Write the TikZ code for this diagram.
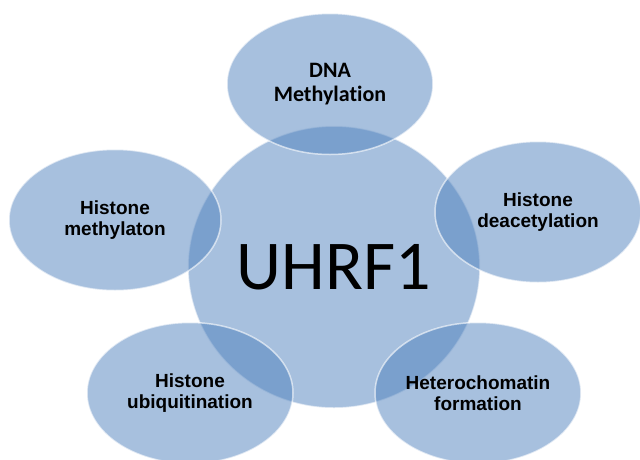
\documentclass[tikz,border=0pt]{standalone}
\usepackage{fontspec}
\setmainfont{Liberation Sans}
\newfontfamily\carlito[Ligatures=NoCommon]{Carlito}
\usetikzlibrary{shapes.geometric, positioning}
\definecolor{BubbleBlue}{HTML}{4F81BD}

\begin{document}
\begin{tikzpicture}[
    x=1pt, y=-1pt,
    bubble/.style={ellipse, fill=BubbleBlue, fill opacity=0.5, draw=white, draw opacity=0.6,
                   line width=1.5pt, inner sep=0pt, text opacity=1, text=black},
    hub/.style={bubble, minimum width=292pt, minimum height=282pt,
                font=\carlito\fontsize{70}{70}\selectfont},
    role/.style={bubble, minimum width=206pt, minimum height=141pt, align=center,
                 font=\bfseries\fontsize{19}{21}\selectfont}
]
    \useasboundingbox (0,0) rectangle (640,459);

    % Central protein
    \node[hub] (uhrf) at (334,267) {UHRF1};

    % Functions around it
    \node[role, font=\carlito\bfseries\fontsize{22}{24}\selectfont] (dnameth) at (330,84) {DNA\\Methylation};
    \node[role] (deacet) at (538,212) {Histone\\deacetylation};
    \node[role, minimum width=212pt] (histmeth) at (115,220) {Histone\\methylaton};
    \node[role] (ubiq) at (190,393) {Histone\\ubiquitination};
    \node[role] (hetero) at (478,393) {Heterochomatin\\formation};
\end{tikzpicture}
\end{document}
